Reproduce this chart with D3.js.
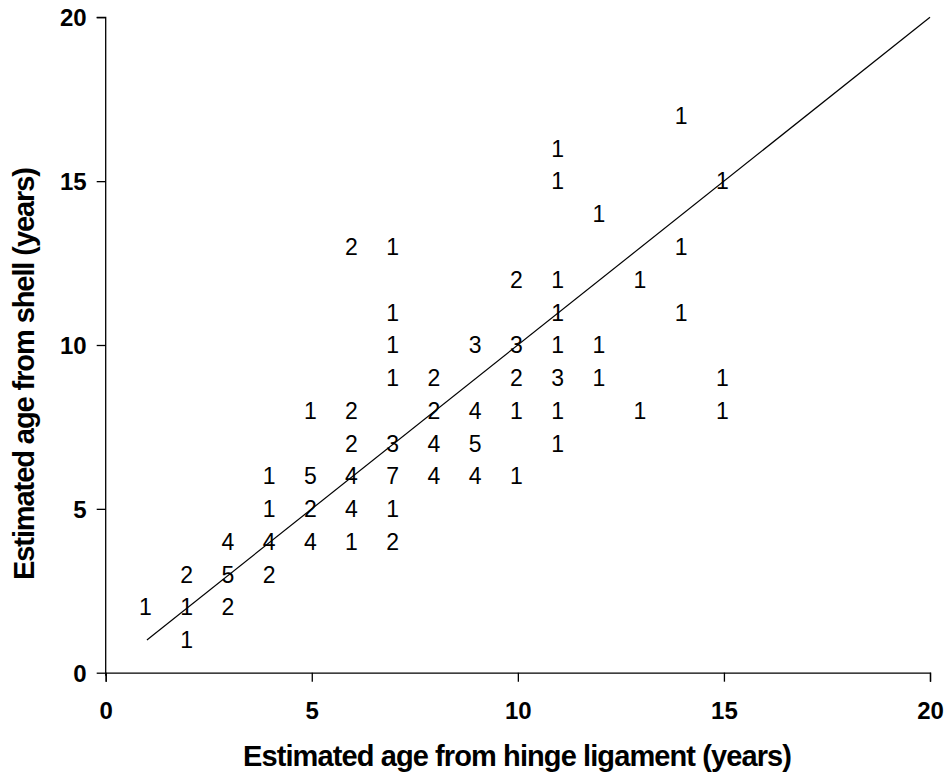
<!DOCTYPE html>
<html><head><meta charset="utf-8">
<script src="https://cdn.jsdelivr.net/npm/d3@7/dist/d3.min.js"></script>
<style>body{margin:0;background:#fff}svg{display:block}</style>
</head><body>
<script>
const hingeAge = [1,2,2,2,3,3,3,4,4,4,4,5,5,5,5,6,6,6,6,6,6,7,7,7,7,7,7,7,7,8,8,8,8,9,9,9,9,10,10,10,10,10,11,11,11,11,11,11,11,11,12,12,12,13,13,14,14,14,15,15,15];
const shellAge = [2,3,2,1,4,3,2,6,5,4,3,8,6,5,4,13,8,7,6,5,4,13,11,10,9,7,6,5,4,9,8,7,6,10,8,7,6,12,10,9,8,6,16,15,12,11,10,9,8,7,14,10,9,12,8,17,13,11,15,9,8];
const counts   = [1,2,1,1,4,5,2,1,1,4,2,1,5,2,4,2,2,2,4,4,1,1,1,1,1,3,7,1,2,2,2,4,4,3,4,5,4,2,3,2,1,1,1,1,1,1,1,3,1,1,1,1,1,1,1,1,1,1,1,1,1];
const ticks = [0,5,10,15,20];
const lineX = [1,20];
const xTitle = "Estimated age from hinge ligament (years)";
const yTitle = "Estimated age from shell (years)";

const W = 949, H = 777;
const svg = d3.select("body").append("svg").attr("width", W).attr("height", H);
const x = d3.scaleLinear().domain([0,20]).range([105.7,930]);
const y = d3.scaleLinear().domain([0,20]).range([672.7,17.3]);
const font = "Arial, 'Liberation Sans', sans-serif";

const xa = svg.append("g").attr("transform",`translate(0,${y(0)})`)
  .call(d3.axisBottom(x).tickValues(ticks).tickSize(9).tickPadding(20).tickFormat(d3.format("d")));
const ya = svg.append("g").attr("transform",`translate(${x(0)},0)`)
  .call(d3.axisLeft(y).tickValues(ticks).tickSize(9).tickPadding(10).tickFormat(d3.format("d")));
[xa,ya].forEach(a=>{
  a.select(".domain").attr("stroke","#000").attr("stroke-width",1.3);
  a.selectAll(".tick line").attr("stroke","#000").attr("stroke-width",1.3);
  a.selectAll(".tick text").attr("fill","#000").style("font-family",font).style("font-size","24px").style("font-weight","bold");
});
ya.select(".domain").attr("d",`M-9,${y(20)}H0V${y(0)+3}`);
ya.selectAll(".tick text").attr("dy","0.36em");

svg.append("line")
  .attr("x1",x(lineX[0])).attr("y1",y(lineX[0]))
  .attr("x2",x(lineX[1])).attr("y2",y(lineX[1]))
  .attr("stroke","#000").attr("stroke-width",1.2);

svg.append("g").selectAll("text").data(d3.range(counts.length)).join("text")
  .attr("x",i=>x(hingeAge[i])-1.5)
  .attr("y",i=>y(shellAge[i]))
  .attr("dy","0.36em")
  .attr("text-anchor","middle")
  .style("font-family",font).style("font-size","23px")
  .text(i=>counts[i]);

svg.append("text").attr("x",517.5).attr("y",766).attr("text-anchor","middle")
  .attr("textLength",549).attr("lengthAdjust","spacing")
  .style("font-family",font).style("font-size","29px").style("font-weight","bold")
  .text(xTitle);
svg.append("text").attr("transform",`translate(34,373.5) rotate(-90)`).attr("text-anchor","middle")
  .attr("textLength",413).attr("lengthAdjust","spacing")
  .style("font-family",font).style("font-size","29px").style("font-weight","bold")
  .text(yTitle);
</script>
</body></html>
